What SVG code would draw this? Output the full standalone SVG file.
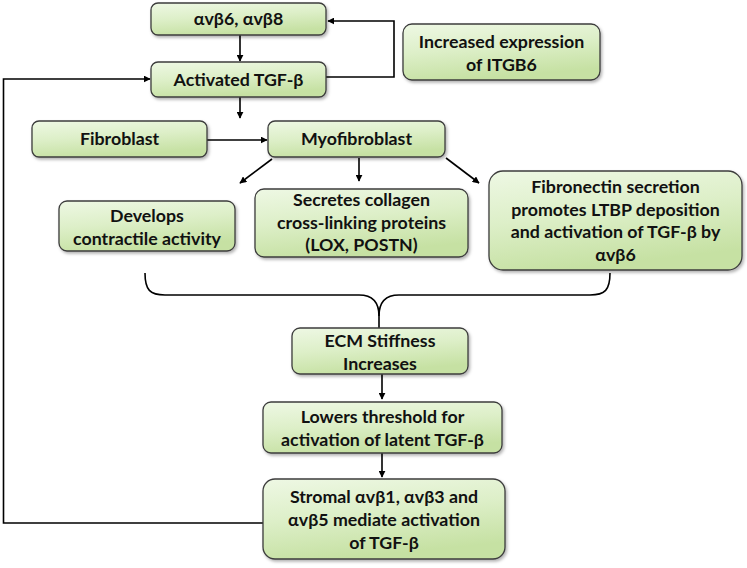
<svg xmlns="http://www.w3.org/2000/svg" width="747" height="568" viewBox="0 0 747 568">
<defs>
<linearGradient id="g" x1="0" y1="0" x2="0.3" y2="1">
<stop offset="0" stop-color="#eef8e4"/>
<stop offset="0.5" stop-color="#ddefc8"/>
<stop offset="1" stop-color="#c6e1a3"/>
</linearGradient>
<filter id="sh" x="-10%" y="-10%" width="130%" height="140%">
<feDropShadow dx="1.5" dy="2" stdDeviation="1.5" flood-color="#000" flood-opacity="0.3"/>
</filter>
<marker id="ah" viewBox="0 0 10 10" refX="9" refY="5" markerWidth="7" markerHeight="7" markerUnits="userSpaceOnUse" orient="auto">
<path d="M0,0 L10,5 L0,10 z" fill="#000"/>
</marker>
<style>
.box{fill:url(#g);stroke:#3c3c3c;stroke-width:1.3;filter:url(#sh)}
.t{font-family:"Lato","Open Sans","Liberation Sans",sans-serif;font-weight:bold;font-size:17.8px;fill:#111;text-anchor:middle}
.c{fill:none;stroke:#000;stroke-width:1.6}
.a{fill:none;stroke:#000;stroke-width:1.6;marker-end:url(#ah)}
</style>
</defs>

<g id="connectors">
<line class="a" x1="240" y1="35" x2="240" y2="61"/>
<line class="a" x1="240" y1="97" x2="240" y2="118"/>
<polyline class="a" points="326,77 394,77 394,21 328,21"/>
<polyline class="a" points="263,523 3.5,523 3.5,79 150,79"/>
<line class="a" x1="207" y1="140" x2="267" y2="140"/>
<line class="a" x1="272" y1="159" x2="240" y2="183"/>
<line class="a" x1="359" y1="158" x2="359" y2="181"/>
<line class="a" x1="446" y1="158" x2="479" y2="183"/>
<path class="c" d="M145,273 C145,290 150,295 165,295 L359,295 C373,295 379,302 379,316 L379,328"/>
<path class="c" d="M610,273 C610,290 605,295 590,295 L399,295 C385,295 379,302 379,316"/>
<line class="a" x1="382" y1="374" x2="382" y2="399"/>
<line class="a" x1="382" y1="453" x2="382" y2="477"/>
</g>

<g id="n1">
<rect class="box" x="151" y="3" width="175" height="32" rx="7"/>
<text class="t" x="238.5" y="25">αvβ6, αvβ8</text>
</g>
<g id="n2">
<rect class="box" x="151" y="62" width="175" height="35" rx="7"/>
<text class="t" x="238.5" y="86">Activated TGF-β</text>
</g>
<g id="n3">
<rect class="box" x="403" y="24" width="197" height="56" rx="9"/>
<text class="t" x="501.5" y="48">Increased expression</text>
<text class="t" x="501.5" y="71">of ITGB6</text>
</g>
<g id="n4">
<rect class="box" x="32" y="121" width="175" height="36" rx="7"/>
<text class="t" x="119.5" y="145">Fibroblast</text>
</g>
<g id="n5">
<rect class="box" x="268" y="121" width="177" height="36" rx="7"/>
<text class="t" x="356.5" y="145">Myofibroblast</text>
</g>
<g id="n6">
<rect class="box" x="59" y="201" width="176" height="50" rx="8"/>
<text class="t" x="147" y="222">Develops</text>
<text class="t" x="147" y="245">contractile activity</text>
</g>
<g id="n7">
<rect class="box" x="255" y="189" width="213" height="68" rx="9"/>
<text class="t" x="361.5" y="206">Secretes collagen</text>
<text class="t" x="361.5" y="229">cross-linking proteins</text>
<text class="t" x="361.5" y="251">(LOX, POSTN)</text>
</g>
<g id="n8">
<rect class="box" x="489" y="171" width="253" height="99" rx="14"/>
<text class="t" x="615.5" y="193">Fibronectin secretion</text>
<text class="t" x="615.5" y="216">promotes LTBP deposition</text>
<text class="t" x="615.5" y="238">and activation of TGF-β by</text>
<text class="t" x="615.5" y="261">αvβ6</text>
</g>
<g id="n9">
<rect class="box" x="292" y="328" width="176" height="46" rx="8"/>
<text class="t" x="380" y="347">ECM Stiffness</text>
<text class="t" x="380" y="370">Increases</text>
</g>
<g id="n10">
<rect class="box" x="263" y="402" width="239" height="51" rx="8"/>
<text class="t" x="382.5" y="423">Lowers threshold for</text>
<text class="t" x="382.5" y="446">activation of latent TGF-β</text>
</g>
<g id="n11">
<rect class="box" x="263" y="479" width="242" height="80" rx="12"/>
<text class="t" x="384" y="503">Stromal αvβ1, αvβ3 and</text>
<text class="t" x="384" y="526">αvβ5 mediate activation</text>
<text class="t" x="384" y="549">of TGF-β</text>
</g>
</svg>
